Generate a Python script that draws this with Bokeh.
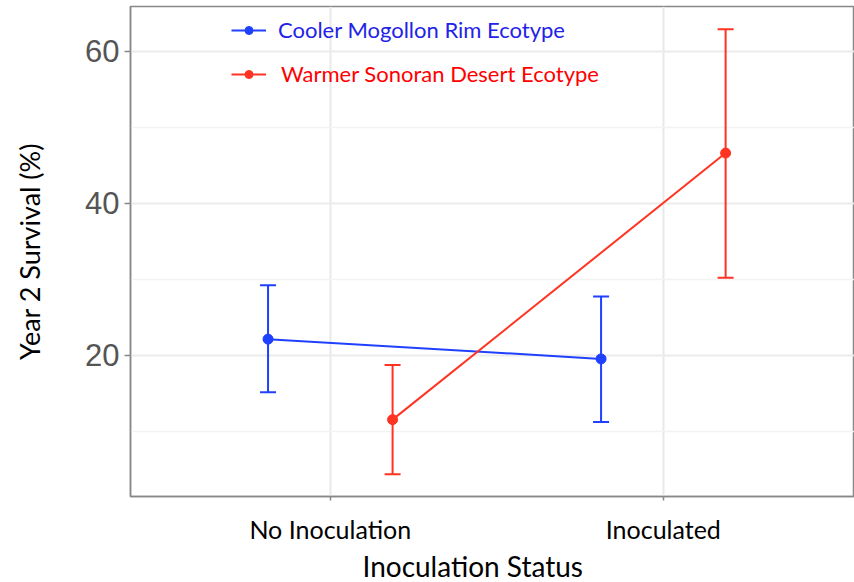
from bokeh.plotting import figure
from bokeh.models import (ColumnDataSource, FixedTicker, Whisker, TeeHead,
                          Legend, LegendItem, Range1d, Title)
from bokeh.embed import file_html
from bokeh.resources import INLINE

# ---- data ----
categories = ["No Inoculation", "Inoculated"]
series_names = ["Cooler Mogollon Rim Ecotype", "Warmer Sonoran Desert Ecotype"]
cooler_mean = [22.1, 19.5]
cooler_upper = [29.2, 27.7]
cooler_lower = [15.1, 11.2]
warmer_mean = [11.5, 46.6]
warmer_upper = [18.7, 62.9]
warmer_lower = [4.3, 30.2]
y_ticks = [20, 40, 60]
y_minor = [10, 30, 50]
x_title = "Inoculation Status"
y_title = "Year 2 Survival (%)"

BLUE = "#2040ff"
RED = "#ff3322"
BLUE_TXT = "#2222e8"
RED_TXT = "#ff0000"
dodge = 0.187

base = [i + 1 for i in range(len(categories))]

p = figure(width=854, height=582, output_backend="svg", toolbar_location=None,
           x_range=Range1d(0.4, 2.574), y_range=Range1d(1.38, 65.9),
           min_border_left=130, min_border_right=0, min_border_top=6,
           min_border_bottom=84)
p.background_fill_color = "white"
p.border_fill_color = "white"
p.outline_line_color = "#888888"
p.outline_line_width = 1.5

# grids
p.xaxis.ticker = FixedTicker(ticks=base)
p.xaxis.major_label_overrides = {b: c for b, c in zip(base, categories)}
p.yaxis.ticker = FixedTicker(ticks=y_ticks, minor_ticks=y_minor)
p.xgrid.grid_line_color = "#e8e8e8"
p.xgrid.grid_line_width = 2
p.ygrid.grid_line_color = "#ebebeb"
p.ygrid.grid_line_width = 2
p.ygrid.minor_grid_line_color = "#f3f3f3"
p.ygrid.minor_grid_line_width = 1.5

# axes
for ax in (p.xaxis, p.yaxis):
    ax.axis_line_color = "#888888"
    ax.axis_line_width = 1.5
    ax.major_tick_line_color = "#888888"
    ax.major_tick_line_width = 1.5
    ax.major_tick_in = 0
    ax.minor_tick_line_color = None
p.yaxis.major_tick_out = 6
p.xaxis.major_tick_out = 4
p.yaxis.major_label_text_font = "Liberation Sans"
p.yaxis.major_label_text_font_size = "31px"
p.yaxis.major_label_text_color = "#555555"
p.yaxis.major_label_standoff = 5
p.xaxis.major_label_text_font = "Lato"
p.xaxis.major_label_text_font_size = "25px"
p.xaxis.major_label_text_color = "black"
p.xaxis.major_label_standoff = 13
p.yaxis.axis_label = y_title
p.yaxis.axis_label_text_font = "Lato"
p.yaxis.axis_label_text_font_size = "27px"
p.yaxis.axis_label_text_font_style = "normal"
p.yaxis.axis_label_text_color = "black"
p.yaxis.axis_label_standoff = 36

# x-axis title (sits left of the panel centre, as in the original)
p.add_layout(Title(text=x_title, align="left", offset=232, text_font="Lato",
                   text_font_size="28px", text_font_style="normal",
                   text_color="black", standoff=0), "below")

legend_specs = []
for name, mean, up, lo, off, col, tcol in [
    (series_names[0], cooler_mean, cooler_upper, cooler_lower, -dodge, BLUE, BLUE_TXT),
    (series_names[1], warmer_mean, warmer_upper, warmer_lower, dodge, RED, RED_TXT),
]:
    src = ColumnDataSource(dict(x=[b + off for b in base], y=mean, upper=up, lower=lo))
    w = Whisker(source=src, base="x", upper="upper", lower="lower", dimension="height",
                line_color=col, line_width=2,
                upper_head=TeeHead(size=16, line_color=col, line_width=2),
                lower_head=TeeHead(size=16, line_color=col, line_width=2))
    p.add_layout(w)
    ln = p.line("x", "y", source=src, line_color=col, line_width=2)
    pt = p.scatter("x", "y", source=src, size=10, fill_color=col, line_color=col)
    legend_specs.append((LegendItem(label=name, renderers=[ln, pt]), tcol))

# one legend per series so each label keeps its own colour
for (item, tcol), loc, stand in zip(legend_specs, [(101, 453), (101, 409)], [12, 15]):
    lg = Legend(items=[item], location=loc, orientation="vertical",
                glyph_width=35, glyph_height=20, label_height=20, label_standoff=stand,
                padding=5, margin=0,
                border_line_color=None, background_fill_alpha=0,
                label_text_font="Lato", label_text_font_size="22px",
                label_text_color=tcol)
    p.add_layout(lg, "center")

open("out.html", "w").write(file_html(p, INLINE))
